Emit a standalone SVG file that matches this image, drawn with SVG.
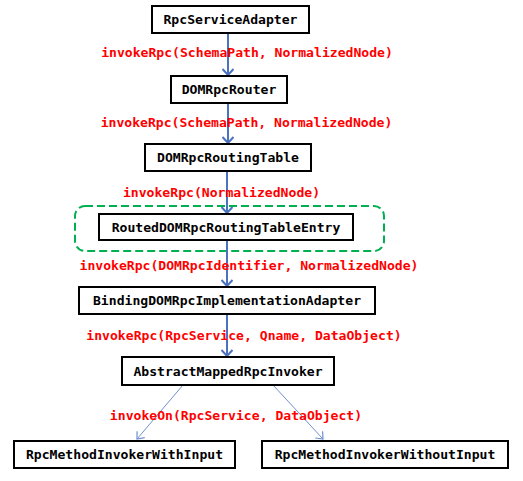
<svg xmlns="http://www.w3.org/2000/svg" width="523" height="481" viewBox="0 0 523 481">
  <defs>
    <style>
      .box { fill: #ffffff; stroke: #000000; stroke-width: 2; }
      .name { font-family: "DejaVu Sans Mono", "Liberation Mono", monospace; font-weight: bold; font-size: 13.1px; fill: #000000; text-anchor: middle; }
      .call { font-family: "DejaVu Sans Mono", "Liberation Mono", monospace; font-weight: bold; font-size: 13.1px; fill: #ff0000; text-anchor: middle; }
      .flow { stroke: #4a72c0; stroke-width: 2; fill: none; }
      .branch { stroke: #6f8fcf; stroke-width: 1; fill: none; }
      .scope { fill: none; stroke: #00b050; stroke-width: 2; stroke-dasharray: 8 4; }
    </style>
    <marker id="openThin" viewBox="0 0 12 12" refX="11" refY="6" markerWidth="12" markerHeight="12" markerUnits="userSpaceOnUse" orient="auto">
      <path d="M5,1 L11,6 L5,11" fill="none" stroke="#6f8fcf" stroke-width="1.2"/>
    </marker>
    <marker id="openThick" viewBox="0 0 12 12" refX="11" refY="6" markerWidth="12" markerHeight="12" markerUnits="userSpaceOnUse" orient="auto">
      <path d="M5,0.5 L11,6 L5,11.5" fill="none" stroke="#4a72c0" stroke-width="2"/>
    </marker>
  </defs>

  <!-- routing scope around the table entry -->
  <rect class="scope" x="75" y="206" width="309" height="45" rx="10" ry="10"/>

  <!-- call connectors -->
  <g id="connectors">
    <line class="flow" x1="228" y1="33" x2="228" y2="75" marker-end="url(#openThick)"/>
    <line class="flow" x1="228" y1="103" x2="228" y2="143" marker-end="url(#openThick)"/>
    <line class="flow" x1="227" y1="171" x2="227" y2="213" marker-end="url(#openThick)"/>
    <line class="flow" x1="227" y1="240" x2="227" y2="286" marker-end="url(#openThick)"/>
    <line class="flow" x1="227" y1="314" x2="227" y2="356" marker-end="url(#openThick)"/>
    <line class="branch" x1="183" y1="385" x2="137" y2="439" marker-end="url(#openThin)"/>
    <line class="branch" x1="273" y1="385" x2="323" y2="439" marker-end="url(#openThin)"/>
  </g>

  <!-- method call labels -->
  <g id="labels">
    <text class="call" x="247" y="57">invokeRpc(SchemaPath, NormalizedNode)</text>
    <text class="call" x="246.5" y="126.5">invokeRpc(SchemaPath, NormalizedNode)</text>
    <text class="call" x="221.5" y="196.5">invokeRpc(NormalizedNode)</text>
    <text class="call" x="249" y="269.5">invokeRpc(DOMRpcIdentifier, NormalizedNode)</text>
    <text class="call" x="244" y="339.5">invokeRpc(RpcService, Qname, DataObject)</text>
    <text class="call" x="236" y="419.5">invokeOn(RpcService, DataObject)</text>
  </g>

  <g id="RpcServiceAdapter">
    <rect class="box" x="152" y="6" width="157" height="27"/>
    <text class="name" x="230.5" y="24">RpcServiceAdapter</text>
  </g>
  <g id="DOMRpcRouter">
    <rect class="box" x="171" y="76" width="116" height="27"/>
    <text class="name" x="229" y="94">DOMRpcRouter</text>
  </g>
  <g id="DOMRpcRoutingTable">
    <rect class="box" x="145" y="144" width="166" height="27"/>
    <text class="name" x="228" y="162">DOMRpcRoutingTable</text>
  </g>
  <g id="RoutedDOMRpcRoutingTableEntry">
    <rect class="box" x="99" y="214" width="254" height="26"/>
    <text class="name" x="226" y="231.5">RoutedDOMRpcRoutingTableEntry</text>
  </g>
  <g id="BindingDOMRpcImplementationAdapter">
    <rect class="box" x="79" y="287" width="296" height="27"/>
    <text class="name" x="227" y="305">BindingDOMRpcImplementationAdapter</text>
  </g>
  <g id="AbstractMappedRpcInvoker">
    <rect class="box" x="122" y="357" width="212" height="28"/>
    <text class="name" x="228" y="375.5">AbstractMappedRpcInvoker</text>
  </g>
  <g id="RpcMethodInvokerWithInput">
    <rect class="box" x="14" y="441" width="221" height="27"/>
    <text class="name" x="124.5" y="459">RpcMethodInvokerWithInput</text>
  </g>
  <g id="RpcMethodInvokerWithoutInput">
    <rect class="box" x="262" y="441" width="246" height="27"/>
    <text class="name" x="385" y="459">RpcMethodInvokerWithoutInput</text>
  </g>
</svg>
